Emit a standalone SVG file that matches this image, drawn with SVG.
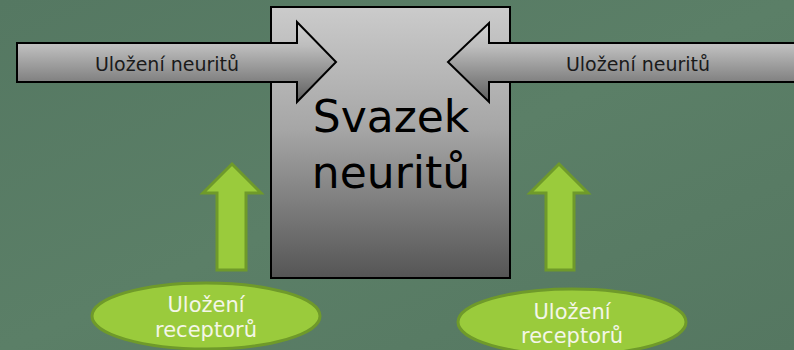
<svg xmlns="http://www.w3.org/2000/svg" width="794" height="350" viewBox="0 0 794 350">
<defs>
<linearGradient id="bg" x1="0" y1="0" x2="1" y2="1">
<stop offset="0" stop-color="#557862"/>
<stop offset="0.5" stop-color="#5b7f67"/>
<stop offset="1" stop-color="#557761"/>
</linearGradient>
<linearGradient id="boxg" x1="0" y1="0" x2="0" y2="1">
<stop offset="0" stop-color="#cbcbcb"/>
<stop offset="0.45" stop-color="#a6a6a6"/>
<stop offset="1" stop-color="#555555"/>
</linearGradient>
<linearGradient id="arrg" x1="0" y1="0" x2="0" y2="1">
<stop offset="0" stop-color="#d2d2d2"/>
<stop offset="0.3" stop-color="#bdbdbd"/>
<stop offset="1" stop-color="#5e5e5e"/>
</linearGradient>
<style>
.gray{fill:url(#arrg);stroke:#000;stroke-width:2;stroke-linejoin:miter}
.green{fill:#9acb3c;stroke:#6f9a2a;stroke-width:3}
.lbl{font-family:"DejaVu Sans","Liberation Sans",sans-serif;font-size:19px;fill:#1a1a1a;text-anchor:middle}
.wl{font-family:"DejaVu Sans","Liberation Sans",sans-serif;font-size:21px;fill:#f4f6e8;text-anchor:middle}
.big{font-family:"DejaVu Sans","Liberation Sans",sans-serif;font-size:44px;fill:#000;text-anchor:middle}
</style>
</defs>
<rect width="794" height="350" fill="url(#bg)"/>
<g id="box">
<rect x="271" y="7" width="239" height="271" fill="url(#boxg)" stroke="#000" stroke-width="2"/>
<text class="big" x="391" y="132">Svazek</text>
<text class="big" x="391" y="188">neuritů</text>
</g>
<g id="connectors">
<g id="arrow-left">
<polygon class="gray" points="17,43 297,43 297,22 336,62 297,102 297,82 17,82"/>
<text class="lbl" x="167" y="71">Uložení neuritů</text>
</g>
<g id="arrow-right">
<polygon class="gray" points="800,43 489,43 489,23 448,62 489,102 489,82 800,82"/>
<text class="lbl" x="638" y="71">Uložení neuritů</text>
</g>
<polygon id="up-left" class="green" points="232,164 261,193 246,193 246,270 217,270 217,193 203,193"/>
<polygon id="up-right" class="green" points="559,164 588,193 574,193 574,270 546,270 546,193 530,193"/>
</g>
<g id="receptor-left">
<ellipse class="green" cx="206" cy="316" rx="114" ry="33"/>
<text class="wl" x="206" y="312">Uložení</text>
<text class="wl" x="206" y="337">receptorů</text>
</g>
<g id="receptor-right">
<ellipse class="green" cx="572" cy="322" rx="114" ry="33"/>
<text class="wl" x="572" y="319">Uložení</text>
<text class="wl" x="572" y="343">receptorů</text>
</g>
</svg>
